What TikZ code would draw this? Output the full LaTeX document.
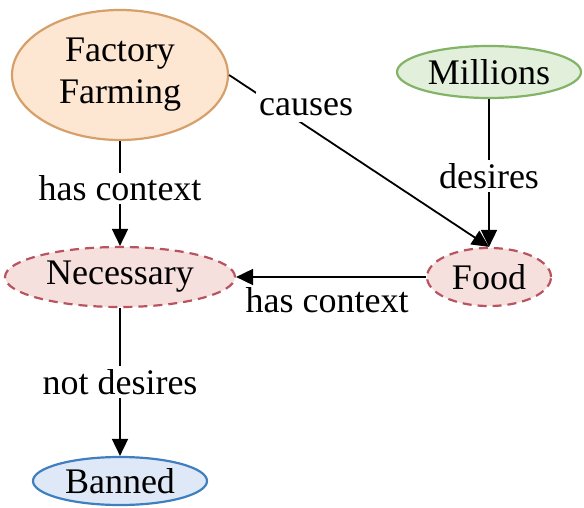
\documentclass[tikz,border=0pt]{standalone}
\usepackage{fontspec}
\setmainfont{Liberation Serif}
\usetikzlibrary{shapes.geometric,arrows.meta}
\definecolor{ffFill}{HTML}{FDE6D2}
\definecolor{ffLine}{HTML}{D6A06B}
\definecolor{miFill}{HTML}{E2EFDA}
\definecolor{miLine}{HTML}{82B366}
\definecolor{ctxFill}{HTML}{F6E0DE}
\definecolor{ctxLine}{HTML}{B85460}
\definecolor{bnFill}{HTML}{DEE8F6}
\definecolor{bnLine}{HTML}{3F7FBF}
\tikzset{
  concept/.style={ellipse, inner sep=0pt, line width=2.2pt, align=center,
    font=\fontsize{36}{42}\selectfont},
  ctx/.style={concept, draw=ctxLine, fill=ctxFill, dash pattern=on 9pt off 6pt},
  link/.style={line width=1.8pt, -{Triangle[length=17pt,width=16pt]}},
  lbl/.style={fill=white, inner sep=3pt, font=\fontsize{36}{40}\selectfont},
}
\begin{document}
\begin{tikzpicture}[x=1pt,y=-1pt]
\useasboundingbox (0,0) rectangle (584,508);
\node[concept, draw=ffLine, fill=ffFill, minimum width=216pt, minimum height=130pt]
  (ff) at (120,75) {Factory\\Farming};
\node[concept, draw=miLine, fill=miFill, minimum width=184pt, minimum height=52pt]
  (mi) at (489,72) {Millions};
\node[ctx, minimum width=230pt, minimum height=60pt] (ne) at (120,277) {Necessary};
\node[ctx, minimum width=124pt, minimum height=58pt] (fo) at (489,277) {Food};
\node[concept, draw=bnLine, fill=bnFill, minimum width=174pt, minimum height=48pt]
  (bn) at (120,481) {Banned};

\draw[link] (ff.east) -- node[lbl, pos=0.25, xshift=12pt, yshift=11pt,
  inner ysep=6pt] {causes} (fo.north);
\draw[link] (ff.south) -- node[lbl, pos=0.45] {has context} (ne.north);
\draw[link] (mi.south) -- node[lbl, pos=0.52] {desires} (fo.north);
\draw[link] (fo.west) -- node[font=\fontsize{36}{40}\selectfont, below=6pt, pos=0.52] {has context} (ne.east);
\draw[link] (ne.south) -- node[lbl, pos=0.5] {not desires} (bn.north);
\end{tikzpicture}
\end{document}
